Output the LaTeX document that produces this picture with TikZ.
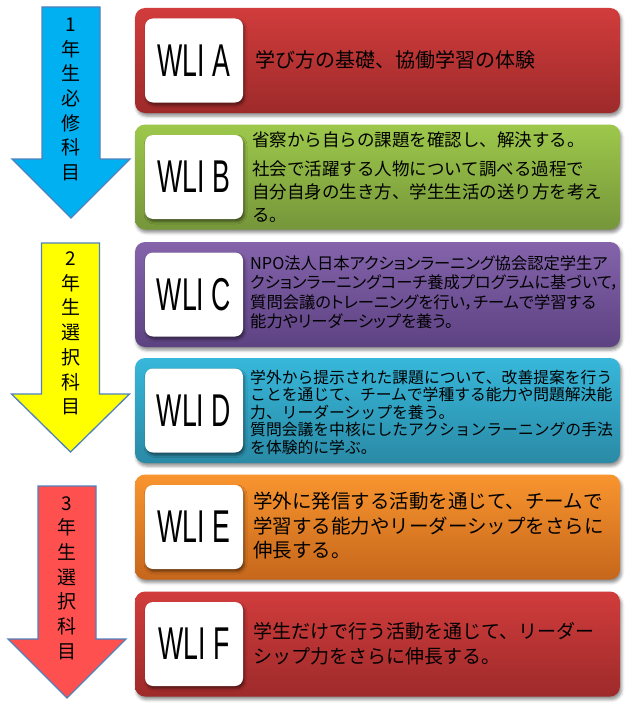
\documentclass[tikz,border=0pt]{standalone}
\usepackage{fontspec}
\usepackage{tikz}
\usetikzlibrary{shadows.blur}
\newfontfamily\jp{Noto Sans CJK JP}
\newfontfamily\jpp[RawFeature=+palt]{Noto Sans CJK JP}
\newfontfamily\wli[FakeStretch=0.58]{Liberation Sans}
\definecolor{arrowline}{RGB}{79,129,189}
\definecolor{arrowone}{RGB}{0,176,240}
\definecolor{arrowtwo}{RGB}{255,255,0}
\definecolor{arrowthree}{RGB}{255,80,80}
\definecolor{barA1}{RGB}{209,60,60}\definecolor{barA2}{RGB}{158,42,42}
\definecolor{barB1}{RGB}{157,200,75}\definecolor{barB2}{RGB}{118,150,58}
\definecolor{barC1}{RGB}{132,99,171}\definecolor{barC2}{RGB}{93,66,130}
\definecolor{barD1}{RGB}{55,183,218}\definecolor{barD2}{RGB}{42,138,166}
\definecolor{barE1}{RGB}{249,149,47}\definecolor{barE2}{RGB}{197,102,27}
\definecolor{barF1}{RGB}{209,60,60}\definecolor{barF2}{RGB}{158,42,42}
\begin{document}
\begin{tikzpicture}[x=1pt,y=-1pt,
  yeararrow/.style={draw=arrowline,line width=1.3pt,line join=miter},
  yeartxt/.style={align=center,inner sep=0pt,font=\jp\fontsize{19}{24.7}\selectfont},
  bar/.style={rectangle,rounded corners=10pt,minimum width=485pt,minimum height=105pt,
    blur shadow={shadow xshift=1.5pt,shadow yshift=-3pt,shadow blur radius=3pt,shadow opacity=45}},
  wlibox/.style={rectangle,rounded corners=8pt,fill=white,minimum width=98pt,minimum height=84pt,
    inner sep=0pt,font=\wli\fontsize{46}{46}\selectfont,
    blur shadow={shadow xshift=1.5pt,shadow yshift=-2.5pt,shadow blur radius=2.5pt,shadow opacity=50}},
  desc/.style={anchor=north west,align=left,inner sep=0pt}]
  \useasboundingbox (0,0) rectangle (638,709);

  \foreach \cx/\top/\wy/\ty/\ym/\col/\a/\b [count=\i] in
    {71/7/159/218/99.5/arrowone/必/修, 70.5/243/394/452/333.5/arrowtwo/選/択, 67/486/639/698/578/arrowthree/選/択}
    {\draw[yeararrow,fill=\col] (\cx-29,\top) -- (\cx+29,\top) -- (\cx+29,\wy) -- (\cx+59,\wy)
       -- (\cx,\ty) -- (\cx-59,\wy) -- (\cx-29,\wy) -- cycle;
     \node[yeartxt] (year\i) at (\cx,\ym) {\i\\年\\生\\\a\\\b\\科\\目};}

  \foreach \n/\yc in {A/60.5,B/177,C/294.5,D/410.5,E/527,F/644}
    {\node[bar,top color=bar\n1,bottom color=bar\n2] (bar\n) at (377.5,\yc) {};
     \node[wlibox] (box\n) at (194,\yc) {WLI \n};}

  \node[desc,anchor=west,font=\jp\fontsize{20}{24}\selectfont] (txtA) at (255,60)
    {学び方の基礎、協働学習の体験};
  \node[desc,font=\jp\fontsize{17.5}{23}\selectfont] (txtB) at (252,131.5)
    {省察から自らの課題を確認し、解決する。\\[6pt]社会で活躍する人物について調べる過程で\\
     自分自身の生き方、学生生活の送り方を考え\\る。};
  \node[desc,font=\jpp\fontsize{16.3}{19.5}\selectfont] (txtC) at (250,255.5)
    {NPO法人日本アクションラーニング協会認定学生ア\\クションラーニングコーチ養成プログラムに基づいて，\\
     質問会議のトレーニングを行い，チームで学習する\\能力やリーダーシップを養う。};
  \node[desc,font=\jp\fontsize{15.8}{17.5}\selectfont] (txtD) at (250,369.5)
    {学外から提示された課題について、改善提案を行う\\ことを通じて、チームで学種する能力や問題解決能\\
     力、リーダーシップを養う。\\質問会議を中核にしたアクションラーニングの手法\\を体験的に学ぶ。};
  \node[desc,font=\jp\fontsize{19.5}{24.5}\selectfont] (txtE) at (253,492)
    {学外に発信する活動を通じて、チームで\\学習する能力やリーダーシップをさらに\\伸長する。};
  \node[desc,font=\jp\fontsize{19}{25}\selectfont] (txtF) at (253,622.5)
    {学生だけで行う活動を通じて、リーダー\\シップ力をさらに伸長する。};
\end{tikzpicture}
\end{document}
